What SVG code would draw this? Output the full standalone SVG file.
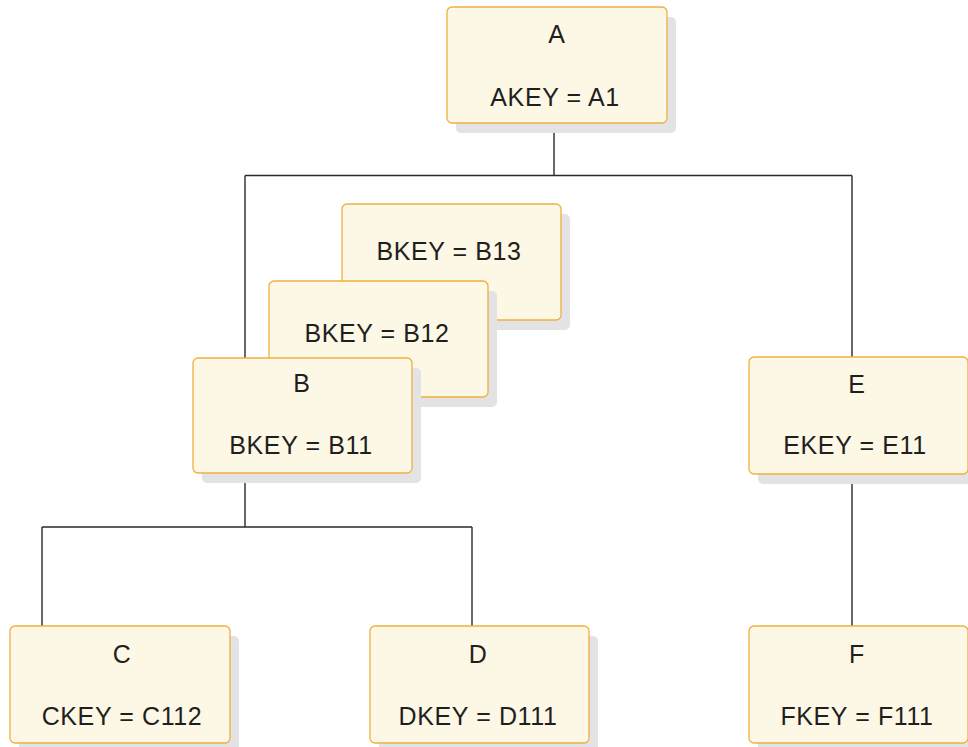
<svg xmlns="http://www.w3.org/2000/svg" width="968" height="747" viewBox="0 0 968 747">
<style>
.sh{fill:#e3e3e5;}
.bx{fill:#fdf7e5;stroke:#f0b03f;stroke-width:1.3;}
.t{font-family:"Liberation Sans",Arial,sans-serif;font-size:25px;fill:#1f1f1f;text-anchor:middle;letter-spacing:0.6px;}
.c{stroke:#2a2a2a;stroke-width:1.4;fill:none;}
</style>
<rect width="968" height="747" fill="#ffffff"/>
<g id="connectors">
<path class="c" d="M554 123V175.5M245 175.5H852M245 175.5V358M852 175.5V357"/>
<path class="c" d="M245 473V527M42 527H472M42 527V626M472 527V626"/>
<path class="c" d="M852 474V626"/>
</g>
<g id="A">
<rect class="sh" x="456" y="17" width="220" height="116" rx="5"/>
<rect class="bx" x="447" y="7" width="220" height="116" rx="5"/>
<text class="t" x="557" y="43">A</text>
<text class="t" x="555" y="106">AKEY = A1</text>
</g>
<g id="B13">
<rect class="sh" x="351" y="214" width="219" height="116" rx="5"/>
<rect class="bx" x="342" y="204" width="219" height="116" rx="5"/>
<text class="t" x="449" y="260">BKEY = B13</text>
</g>
<g id="B12">
<rect class="sh" x="278" y="291" width="219" height="116" rx="5"/>
<rect class="bx" x="269" y="281" width="219" height="116" rx="5"/>
<text class="t" x="377" y="342">BKEY = B12</text>
</g>
<g id="B">
<rect class="sh" x="202" y="368" width="219" height="115" rx="5"/>
<rect class="bx" x="193" y="358" width="219" height="115" rx="5"/>
<text class="t" x="302" y="392">B</text>
<text class="t" x="301" y="454">BKEY = B11</text>
</g>
<g id="E">
<rect class="sh" x="758" y="367" width="219" height="117" rx="5"/>
<rect class="bx" x="749" y="357" width="219" height="117" rx="5"/>
<text class="t" x="857" y="393">E</text>
<text class="t" x="855" y="454">EKEY = E11</text>
</g>
<g id="C">
<rect class="sh" x="19" y="636" width="220" height="117" rx="5"/>
<rect class="bx" x="10" y="626" width="220" height="117" rx="5"/>
<text class="t" x="122" y="663">C</text>
<text class="t" x="122" y="725">CKEY = C112</text>
</g>
<g id="D">
<rect class="sh" x="379" y="636" width="219" height="117" rx="5"/>
<rect class="bx" x="370" y="626" width="219" height="117" rx="5"/>
<text class="t" x="478" y="663">D</text>
<text class="t" x="478" y="725">DKEY = D111</text>
</g>
<g id="F">
<rect class="sh" x="758" y="636" width="219" height="117" rx="5"/>
<rect class="bx" x="749" y="626" width="219" height="117" rx="5"/>
<text class="t" x="857" y="663">F</text>
<text class="t" x="857" y="725">FKEY = F111</text>
</g>
</svg>
